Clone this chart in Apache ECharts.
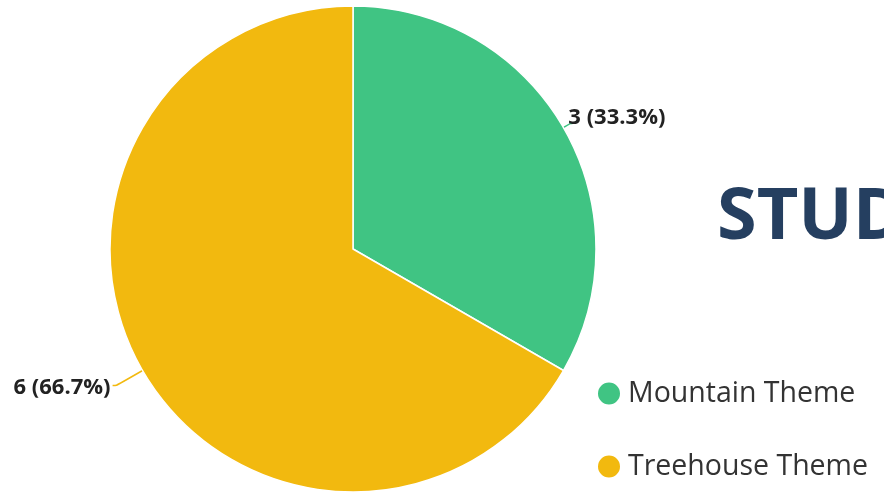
<!DOCTYPE html>
<html>
<head>
<meta charset="utf-8">
<script src="https://cdn.jsdelivr.net/npm/echarts@6/dist/echarts.min.js"></script>
<style>
html, body { margin: 0; padding: 0; background: #fff; }
#pie_theme { width: 884px; height: 497px; }
</style>
</head>
<body>
<div id="pie_theme"></div>
<script>
var themeNames = ['Mountain Theme', 'Treehouse Theme']
var themeVotes = [3, 6]
var colorList = ['#40C483', '#F2B90F']
var lineLen = [8, 30]   // first segment of label line per slice
var lineLen2 = [2, 4]

var pieChart = echarts.init(document.getElementById('pie_theme'), null, {
	renderer: 'canvas'
})

var pieData = []
for (var i = 0; i < themeNames.length; i++) {
	pieData.push({
		name: themeNames[i],
		value: themeVotes[i],
		itemStyle: { color: colorList[i] },
		labelLine: { length: lineLen[i], length2: lineLen2[i] }
	})
}

var option = {
	animation: false,
	backgroundColor: '#fff',
	title: {
		text: 'STUDENT',
		left: 712,
		top: 177,
		textStyle: {
			color: '#253F60',
			fontFamily: 'Open Sans',
			fontWeight: 'bold',
			fontSize: 72
		}
	},
	legend: {
		orient: 'vertical',
		left: 591,
		top: 374,
		icon: 'circle',
		itemWidth: 24,
		itemHeight: 24,
		itemGap: 44,
		data: themeNames,
		textStyle: {
			color: '#333',
			fontFamily: 'Open Sans',
			fontSize: 28.5,
			padding: [0, 0, 0, 2]
		}
	},
	series: [
		{
			type: 'pie',
			center: [353, 249],
			radius: 243,
			startAngle: 90,
			clockwise: true,
			percentPrecision: 1,
			itemStyle: {
				borderColor: '#fff',
				borderWidth: 1.5
			},
			label: {
				show: true,
				position: 'outside',
				formatter: '{c} ({d}%)',
				color: '#222',
				fontFamily: 'Open Sans',
				fontWeight: 'bold',
				fontSize: 22,
				distanceToLabelLine: 2
			},
			labelLine: {
				show: true,
				smooth: 0.3,
				lineStyle: { width: 1.5 }
			},
			labelLayout: function (params) {
				// nudge the small slice label up a bit, as in the source picture
				if (params.dataIndex === 0) {
					return { dx: -6, dy: -6 }
				}
				return { dy: 2 }
			},
			data: pieData
		}
	]
}

pieChart.setOption(option)
</script>
</body>
</html>
